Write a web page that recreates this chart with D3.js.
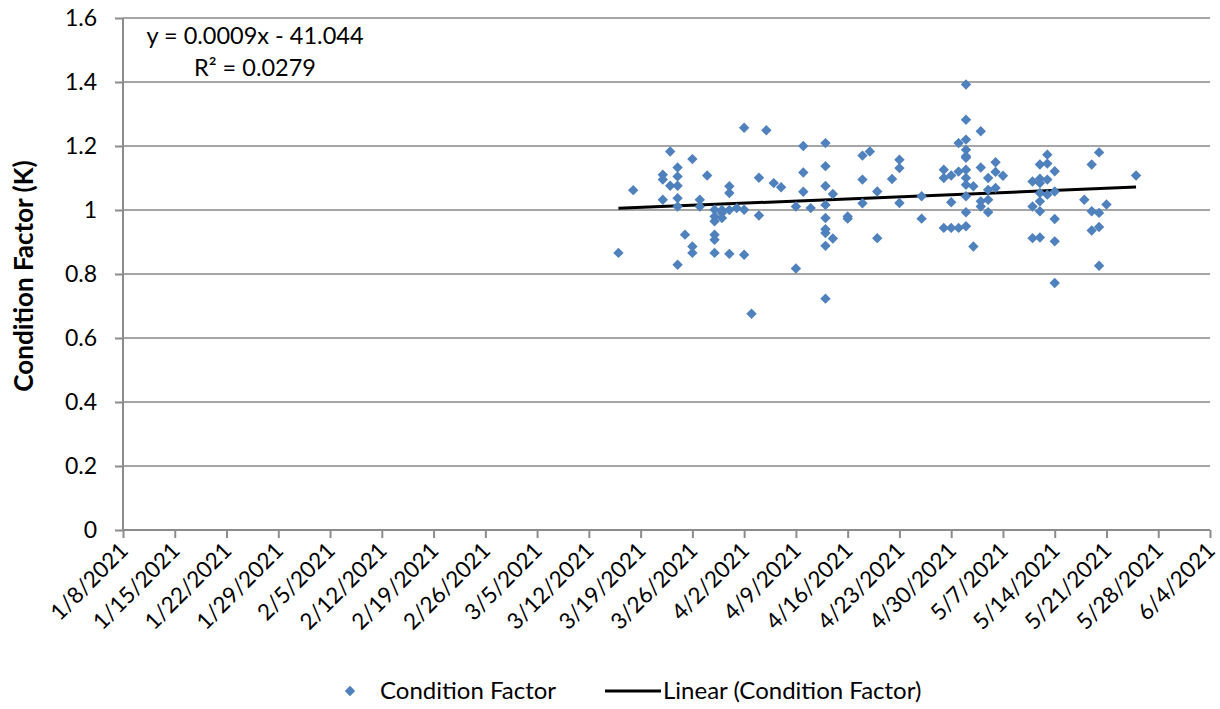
<!DOCTYPE html>
<html>
<head>
<meta charset="utf-8">
<script src="https://cdn.jsdelivr.net/npm/d3@7"></script>
<style>
  body { margin: 0; background: #fff; }
  svg text { font-family: Lato, "Open Sans", sans-serif; fill: #000; }
</style>
</head>
<body>
<div id="chart"></div>
<script>
// fechas de muestreo y factor de condicion (K)
const sampleDates = [
  "3/16/2021", "3/18/2021",
  "3/22/2021", "3/22/2021", "3/22/2021",
  "3/23/2021", "3/23/2021",
  "3/24/2021", "3/24/2021", "3/24/2021", "3/24/2021", "3/24/2021", "3/24/2021",
  "3/25/2021",
  "3/26/2021", "3/26/2021", "3/26/2021",
  "3/27/2021", "3/27/2021",
  "3/28/2021",
  "3/29/2021", "3/29/2021", "3/29/2021", "3/29/2021", "3/29/2021", "3/29/2021",
  "3/30/2021", "3/30/2021", "3/30/2021",
  "3/31/2021", "3/31/2021", "3/31/2021", "3/31/2021",
  "4/1/2021",
  "4/2/2021", "4/2/2021", "4/2/2021",
  "4/3/2021",
  "4/4/2021", "4/4/2021",
  "4/5/2021", "4/6/2021", "4/7/2021",
  "4/9/2021", "4/9/2021",
  "4/10/2021", "4/10/2021", "4/10/2021",
  "4/11/2021",
  "4/13/2021", "4/13/2021", "4/13/2021", "4/13/2021", "4/13/2021", "4/13/2021", "4/13/2021", "4/13/2021", "4/13/2021",
  "4/14/2021", "4/14/2021",
  "4/16/2021", "4/16/2021",
  "4/18/2021", "4/18/2021", "4/18/2021",
  "4/19/2021",
  "4/20/2021", "4/20/2021",
  "4/22/2021",
  "4/23/2021", "4/23/2021", "4/23/2021",
  "4/26/2021", "4/26/2021",
  "4/29/2021", "4/29/2021", "4/29/2021",
  "4/30/2021", "4/30/2021", "4/30/2021",
  "5/1/2021", "5/1/2021", "5/1/2021",
  "5/2/2021", "5/2/2021", "5/2/2021", "5/2/2021", "5/2/2021", "5/2/2021", "5/2/2021", "5/2/2021", "5/2/2021", "5/2/2021", "5/2/2021", "5/2/2021",
  "5/3/2021", "5/3/2021",
  "5/4/2021", "5/4/2021", "5/4/2021", "5/4/2021",
  "5/5/2021", "5/5/2021", "5/5/2021", "5/5/2021",
  "5/6/2021", "5/6/2021", "5/6/2021",
  "5/7/2021",
  "5/11/2021", "5/11/2021", "5/11/2021",
  "5/12/2021", "5/12/2021", "5/12/2021", "5/12/2021", "5/12/2021", "5/12/2021", "5/12/2021",
  "5/13/2021", "5/13/2021", "5/13/2021", "5/13/2021",
  "5/14/2021", "5/14/2021", "5/14/2021", "5/14/2021", "5/14/2021",
  "5/18/2021",
  "5/19/2021", "5/19/2021", "5/19/2021",
  "5/20/2021", "5/20/2021", "5/20/2021", "5/20/2021",
  "5/21/2021",
  "5/25/2021"
];
const conditionFactor = [
  0.866, 1.062,
  1.110, 1.095, 1.032,
  1.183, 1.076,
  1.133, 1.105, 1.076, 1.037, 1.011, 0.829,
  0.923,
  1.159, 0.886, 0.866,
  1.032, 1.011,
  1.108,
  1.001, 0.980, 0.965, 0.923, 0.907, 0.866,
  1.000, 0.991, 0.975,
  1.074, 1.053, 1.000, 0.863,
  1.006,
  1.257, 1.001, 0.860,
  0.676,
  1.101, 0.983,
  1.249, 1.084, 1.071,
  1.011, 0.817,
  1.200, 1.117, 1.057,
  1.006,
  1.209, 1.137, 1.075, 1.016, 0.975, 0.940, 0.928, 0.888, 0.723,
  1.050, 0.911,
  0.980, 0.973,
  1.170, 1.095, 1.021,
  1.183,
  1.058, 0.912,
  1.097,
  1.157, 1.131, 1.022,
  1.043, 0.973,
  1.126, 1.100, 0.944,
  1.108, 1.024, 0.944,
  1.209, 1.120, 0.944,
  1.392, 1.282, 1.220, 1.188, 1.168, 1.163, 1.126, 1.100, 1.079, 1.043, 0.993, 0.949,
  1.074, 0.886,
  1.246, 1.133, 1.027, 1.011,
  1.100, 1.063, 1.032, 0.993,
  1.149, 1.119, 1.069,
  1.107,
  1.089, 1.011, 0.912,
  1.142, 1.098, 1.084, 1.053, 1.027, 0.996, 0.914,
  1.173, 1.145, 1.095, 1.048,
  1.121, 1.058, 0.972, 0.902, 0.772,
  1.032,
  1.142, 0.996, 0.936,
  1.180, 0.991, 0.947, 0.826,
  1.017,
  1.108
];
const xTickLabels = [
  "1/8/2021", "1/15/2021", "1/22/2021", "1/29/2021", "2/5/2021", "2/12/2021",
  "2/19/2021", "2/26/2021", "3/5/2021", "3/12/2021", "3/19/2021", "3/26/2021",
  "4/2/2021", "4/9/2021", "4/16/2021", "4/23/2021", "4/30/2021", "5/7/2021",
  "5/14/2021", "5/21/2021", "5/28/2021", "6/4/2021"
];
const yTicks = [0, 0.2, 0.4, 0.6, 0.8, 1, 1.2, 1.4, 1.6];
const equationText = "y = 0.0009x - 41.044";
const r2Text = "R\u00b2 = 0.0279";
const seriesName = "Condition Factor";
const trendName = "Linear (Condition Factor)";
const yTitle = "Condition Factor (K)";

const W = 1220, H = 709;
const margin = { top: 18, right: 10, bottom: 179, left: 123 };
const innerW = W - margin.left - margin.right;
const innerH = H - margin.top - margin.bottom;
const blue = "#4f81bd";
const grey = "#8c8c8c";

const parse = d3.timeParse("%m/%d/%Y");
const fmt = d3.timeFormat("%-m/%-d/%Y");
const data = sampleDates.map((d, i) => ({ date: parse(d), k: conditionFactor[i] }));
const tickDates = xTickLabels.map(parse);

const svg = d3.select("#chart").append("svg")
  .attr("width", W).attr("height", H);

const g = svg.append("g")
  .attr("transform", `translate(${margin.left},${margin.top})`);

const x = d3.scaleTime()
  .domain([tickDates[0], tickDates[tickDates.length - 1]])
  .range([0, innerW]);
const y = d3.scaleLinear().domain([0, 1.6]).range([innerH, 0]);

// lineas de grilla horizontales
g.append("g").selectAll("line").data(yTicks.filter(d => d > 0)).join("line")
  .attr("x1", 0).attr("x2", innerW)
  .attr("y1", d => y(d)).attr("y2", d => y(d))
  .attr("stroke", "#a6a6a6").attr("stroke-width", 2);

// eje y
const yAxis = g.append("g")
  .call(d3.axisLeft(y).tickValues(yTicks).tickFormat(d3.format("")).tickSize(8).tickPadding(18));
yAxis.select(".domain").attr("stroke", grey).attr("stroke-width", 2).attr("d", `M0,${innerH}V0`);
yAxis.selectAll(".tick line").attr("stroke", grey).attr("stroke-width", 2);
yAxis.selectAll("text").style("font-size", "23px");

// eje x
const xAxis = g.append("g")
  .attr("transform", `translate(0,${innerH})`)
  .call(d3.axisBottom(x).tickValues(tickDates).tickFormat(fmt).tickSize(8));
xAxis.select(".domain").attr("stroke", grey).attr("stroke-width", 2).attr("d", `M0,0H${innerW}`);
xAxis.selectAll(".tick line").attr("stroke", grey).attr("stroke-width", 2);
xAxis.selectAll("text")
  .style("font-size", "22.5px")
  .attr("text-anchor", "end")
  .attr("dy", null)
  .attr("transform", "translate(6,22) rotate(-45)")
  .attr("y", 0).attr("x", 0);

// titulo eje y
svg.append("text")
  .attr("transform", `translate(33,${margin.top + innerH / 2 + 2}) rotate(-90)`)
  .attr("text-anchor", "middle")
  .style("font-size", "26px").style("font-weight", "bold")
  .text(yTitle);

// regresion lineal
const xs = data.map(d => +d.date), ys = data.map(d => d.k);
const mx = d3.mean(xs), my = d3.mean(ys);
const slope = d3.sum(xs, (v, i) => (v - mx) * (ys[i] - my)) / d3.sum(xs, v => (v - mx) ** 2);
const icpt = my - slope * mx;
const ext = d3.extent(data, d => d.date);

g.append("line")
  .attr("x1", x(ext[0])).attr("y1", y(icpt + slope * +ext[0]))
  .attr("x2", x(ext[1])).attr("y2", y(icpt + slope * +ext[1]))
  .attr("stroke", "#000").attr("stroke-width", 3);

// puntos
const diamond = d3.symbol(d3.symbolSquare, 54);
g.append("g").selectAll("path").data(data).join("path")
  .attr("d", diamond)
  .attr("transform", d => `translate(${x(d.date)},${y(d.k)}) rotate(45)`)
  .attr("fill", blue);

// ecuacion (centrada como la etiqueta de Excel)
svg.append("text").attr("x", 255).attr("y", 44).attr("text-anchor", "middle")
  .style("font-size", "23.5px").text(equationText);
svg.append("text").attr("x", 255).attr("y", 76).attr("text-anchor", "middle")
  .style("font-size", "23.5px").text(r2Text);

// leyenda
const leg = svg.append("g").attr("transform", "translate(0,691)");
leg.append("path").attr("d", diamond).attr("transform", "translate(350,0) rotate(45)").attr("fill", blue);
leg.append("text").attr("x", 380).attr("y", 8).style("font-size", "24px").text(seriesName);
leg.append("line").attr("x1", 605).attr("x2", 661).attr("y1", 0).attr("y2", 0)
  .attr("stroke", "#000").attr("stroke-width", 3);
leg.append("text").attr("x", 663).attr("y", 8).style("font-size", "24px").text(trendName);
</script>
</body>
</html>
